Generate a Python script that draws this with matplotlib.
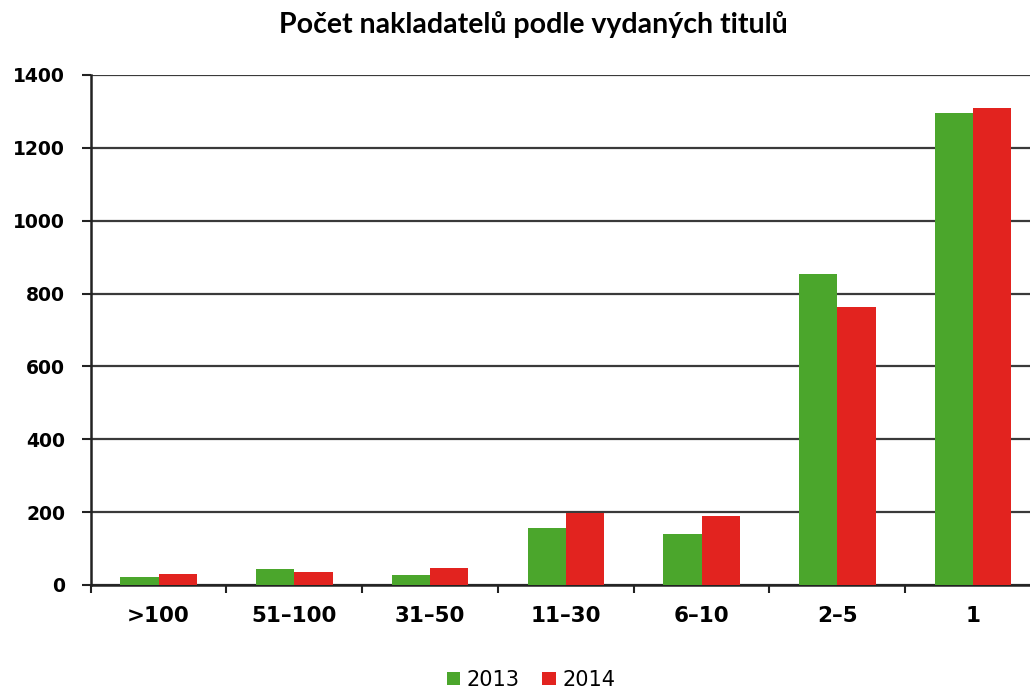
import matplotlib
matplotlib.use("Agg")
import matplotlib.pyplot as plt
import numpy as np
from matplotlib.patches import Patch

categories = [">100", "51–100", "31–50", "11–30", "6–10", "2–5", "1"]
values_2013 = [23, 44, 28, 156, 140, 854, 1296]
values_2014 = [29, 36, 47, 198, 189, 764, 1310]
series_names = ["2013", "2014"]
yticks = [0, 200, 400, 600, 800, 1000, 1200, 1400]

green = "#4BA62C"
red = "#E2231F"

W, H = 1030, 691
fig = plt.figure(figsize=(W / 100, H / 100), dpi=100)
left_px, right_px, top_px, bottom_px = 90.7, 1041, 75, 585
ax = fig.add_axes([left_px / W, (H - bottom_px) / H,
                   (right_px - left_px) / W, (bottom_px - top_px) / H])

x = np.arange(len(categories))
bw = 0.282
ax.bar(x - bw / 2, values_2013, bw, color=green, zorder=3)
ax.bar(x + bw / 2, values_2014, bw, color=red, zorder=3)

ax.set_xlim(-0.5, len(categories) - 0.5)
ax.set_ylim(0, 1400)
ax.set_yticks(yticks)
ax.set_yticklabels([str(v) for v in yticks], fontsize=13.5, fontweight="bold",
                   family="DejaVu Sans")
ax.yaxis.grid(True, color="#3a3a3a", linewidth=1.6, zorder=1)
ax.set_axisbelow(True)

# group boundary ticks
ax.set_xticks(np.arange(len(categories) + 1) - 0.5, minor=False)
ax.set_xticklabels([])
ax.set_xticks(x, minor=True)
ax.set_xticklabels(categories, minor=True, fontsize=15.5, fontweight="bold",
                   family="DejaVu Sans")
ax.tick_params(axis="x", which="major", length=6, width=1.5, color="#222222",
               direction="out")
ax.tick_params(axis="x", which="minor", length=0, pad=15)
ax.tick_params(axis="y", length=6.5, width=1.5, color="#222222", pad=12)

for s in ["top", "right"]:
    ax.spines[s].set_visible(False)
ax.spines["left"].set_linewidth(1.8)
ax.spines["left"].set_color("#222222")
ax.spines["bottom"].set_linewidth(1.8)
ax.spines["bottom"].set_color("#222222")

fig.text(533 / W, 1 - 33 / H, "Počet nakladatelů podle vydaných titulů",
         ha="center", va="baseline", fontsize=20.5, fontweight="bold",
         family="Lato")

handles = [Patch(facecolor=green, label=series_names[0]),
           Patch(facecolor=red, label=series_names[1])]
fig.legend(handles=handles, loc="center", bbox_to_anchor=(531 / W, 1 - 680 / H),
           ncol=2, frameon=False, prop={"family": "DejaVu Sans", "size": 15},
           handlelength=0.63, handleheight=0.63, handletextpad=0.33,
           columnspacing=1.1, borderpad=0.1)

fig.savefig("out.png", dpi=100)
